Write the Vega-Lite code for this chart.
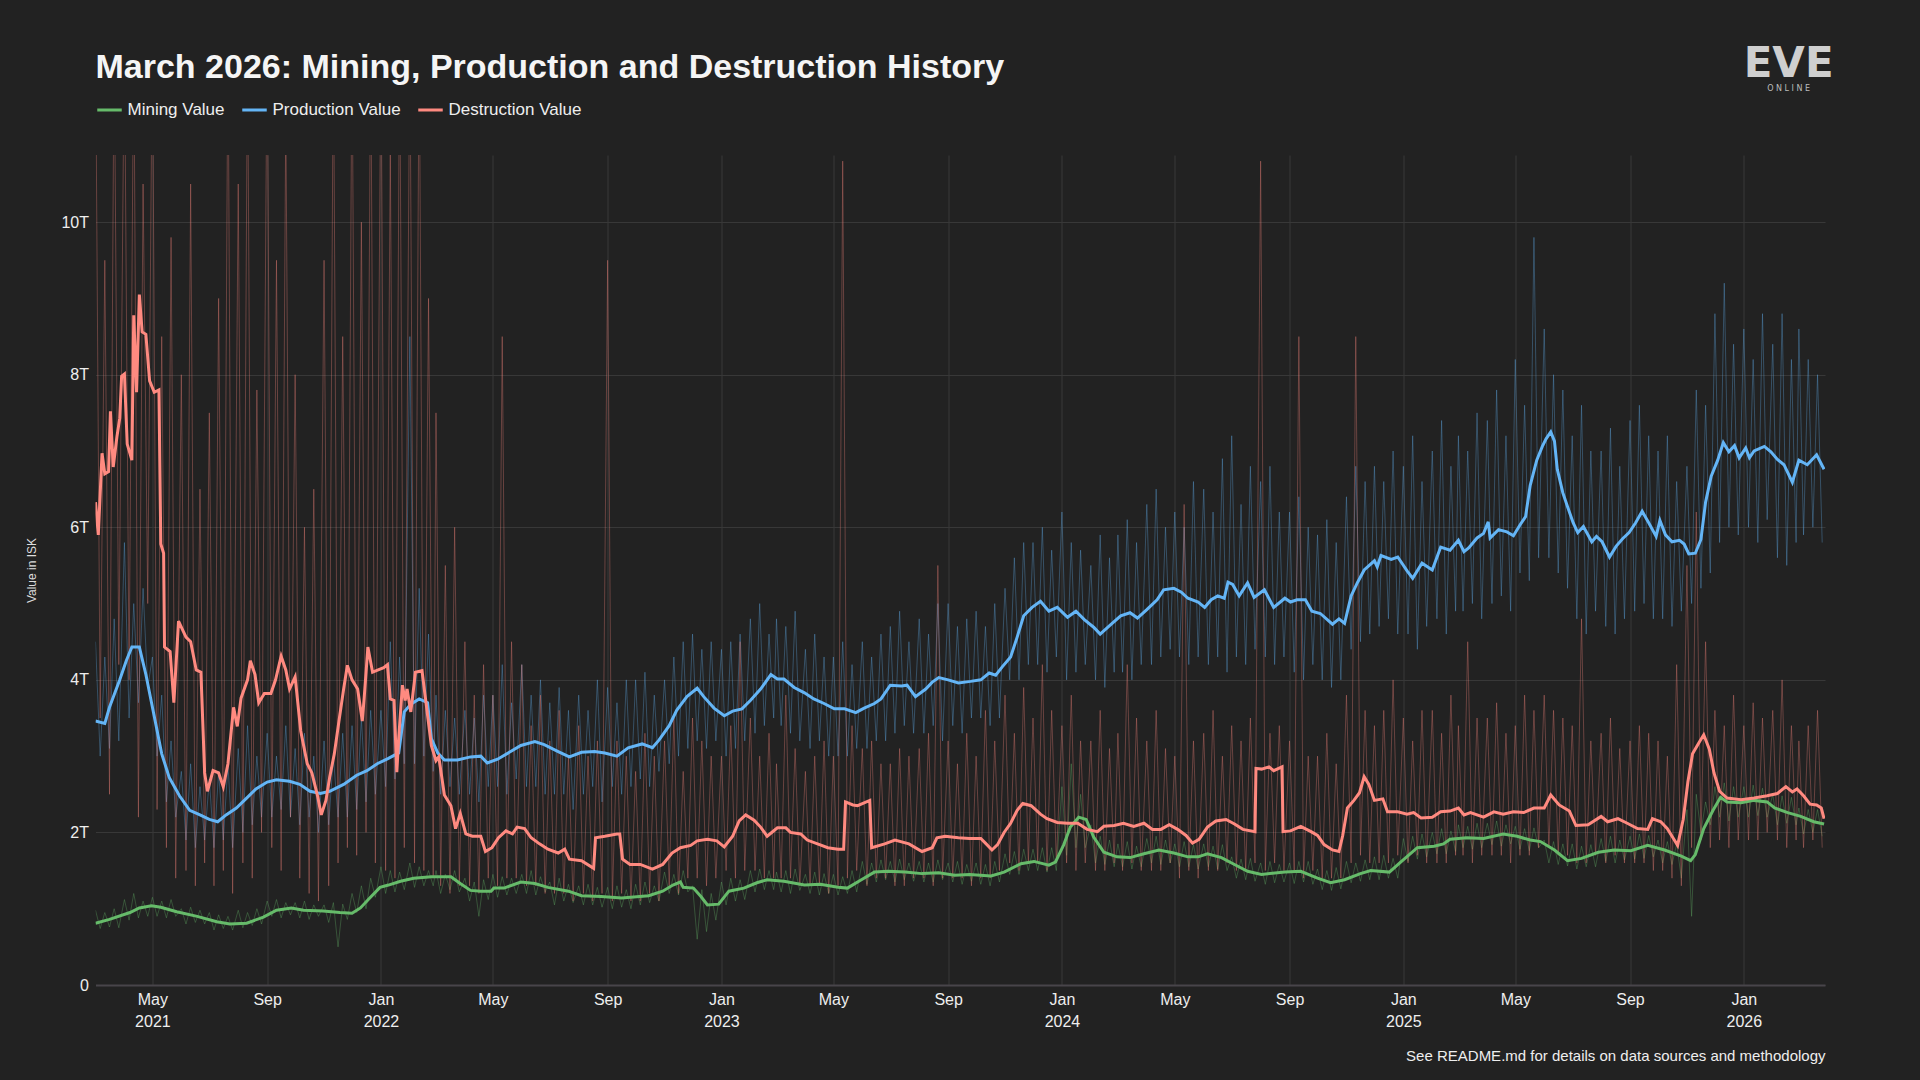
{
"$schema": "https://vega.github.io/schema/vega-lite/v6.json",
"width": 1729.5, "height": 830,
"autosize": {"type": "none"},
"padding": {"left": 95.5, "top": 155, "right": 95, "bottom": 95},
"background": "#222222",
"config": {"font": "Liberation Sans, Arial, sans-serif", "view": {"stroke": null}},
"title": {"text": "March 2026: Mining, Production and Destruction History", "anchor": "start", "frame": "group", "fontSize": 34, "fontWeight": "bold", "color": "#f5f5f5", "offset": -42},
"datasets": {
"smooth": [
{"t":"2021-03-01","s":"M","v":0.81},{"t":"2021-03-16","s":"M","v":0.86},{"t":"2021-04-07","s":"M","v":0.95},{"t":"2021-04-17","s":"M","v":1.01},{"t":"2021-04-30","s":"M","v":1.04},{"t":"2021-05-10","s":"M","v":1.02},{"t":"2021-05-27","s":"M","v":0.96},{"t":"2021-06-18","s":"M","v":0.9},{"t":"2021-07-09","s":"M","v":0.83},{"t":"2021-07-23","s":"M","v":0.8},{"t":"2021-08-10","s":"M","v":0.81},{"t":"2021-08-28","s":"M","v":0.89},{"t":"2021-09-11","s":"M","v":0.98},{"t":"2021-09-27","s":"M","v":1.01},{"t":"2021-10-10","s":"M","v":0.98},{"t":"2021-10-31","s":"M","v":0.97},{"t":"2021-11-18","s":"M","v":0.95},{"t":"2021-12-01","s":"M","v":0.94},{"t":"2021-12-10","s":"M","v":1.01},{"t":"2021-12-20","s":"M","v":1.14},{"t":"2021-12-31","s":"M","v":1.28},
{"t":"2022-01-09","s":"M","v":1.31},{"t":"2022-01-22","s":"M","v":1.36},{"t":"2022-02-05","s":"M","v":1.4},{"t":"2022-02-24","s":"M","v":1.42},{"t":"2022-03-17","s":"M","v":1.42},{"t":"2022-03-27","s":"M","v":1.33},{"t":"2022-04-07","s":"M","v":1.24},{"t":"2022-04-18","s":"M","v":1.23},{"t":"2022-04-29","s":"M","v":1.23},{"t":"2022-05-02","s":"M","v":1.27},{"t":"2022-05-13","s":"M","v":1.27},{"t":"2022-05-31","s":"M","v":1.35},{"t":"2022-06-15","s":"M","v":1.33},{"t":"2022-06-29","s":"M","v":1.28},{"t":"2022-07-21","s":"M","v":1.23},{"t":"2022-08-04","s":"M","v":1.17},{"t":"2022-08-25","s":"M","v":1.16},{"t":"2022-09-16","s":"M","v":1.14},{"t":"2022-10-15","s":"M","v":1.17},{"t":"2022-10-30","s":"M","v":1.23},{"t":"2022-11-10","s":"M","v":1.31},{"t":"2022-11-18","s":"M","v":1.35},{"t":"2022-11-21","s":"M","v":1.28},{"t":"2022-12-02","s":"M","v":1.27},{"t":"2022-12-10","s":"M","v":1.16},{"t":"2022-12-17","s":"M","v":1.05},{"t":"2022-12-29","s":"M","v":1.06},
{"t":"2023-01-09","s":"M","v":1.23},{"t":"2023-01-25","s":"M","v":1.27},{"t":"2023-02-08","s":"M","v":1.34},{"t":"2023-02-19","s":"M","v":1.38},{"t":"2023-03-09","s":"M","v":1.36},{"t":"2023-03-31","s":"M","v":1.31},{"t":"2023-04-17","s":"M","v":1.32},{"t":"2023-05-06","s":"M","v":1.28},{"t":"2023-05-16","s":"M","v":1.27},{"t":"2023-05-31","s":"M","v":1.38},{"t":"2023-06-14","s":"M","v":1.48},{"t":"2023-06-29","s":"M","v":1.49},{"t":"2023-07-17","s":"M","v":1.48},{"t":"2023-08-04","s":"M","v":1.46},{"t":"2023-08-22","s":"M","v":1.47},{"t":"2023-09-08","s":"M","v":1.44},{"t":"2023-09-24","s":"M","v":1.45},{"t":"2023-10-17","s":"M","v":1.43},{"t":"2023-10-31","s":"M","v":1.48},{"t":"2023-11-18","s":"M","v":1.59},{"t":"2023-12-02","s":"M","v":1.62},{"t":"2023-12-18","s":"M","v":1.57},{"t":"2023-12-25","s":"M","v":1.61},
{"t":"2024-01-03","s":"M","v":1.84},{"t":"2024-01-10","s":"M","v":2.07},{"t":"2024-01-19","s":"M","v":2.2},{"t":"2024-01-27","s":"M","v":2.17},{"t":"2024-02-04","s":"M","v":1.94},{"t":"2024-02-15","s":"M","v":1.74},{"t":"2024-02-29","s":"M","v":1.68},{"t":"2024-03-14","s":"M","v":1.67},{"t":"2024-03-29","s":"M","v":1.72},{"t":"2024-04-14","s":"M","v":1.77},{"t":"2024-04-30","s":"M","v":1.73},{"t":"2024-05-15","s":"M","v":1.68},{"t":"2024-05-26","s":"M","v":1.68},{"t":"2024-06-05","s":"M","v":1.72},{"t":"2024-06-20","s":"M","v":1.67},{"t":"2024-07-04","s":"M","v":1.58},{"t":"2024-07-18","s":"M","v":1.49},{"t":"2024-08-02","s":"M","v":1.45},{"t":"2024-08-27","s":"M","v":1.48},{"t":"2024-09-13","s":"M","v":1.49},{"t":"2024-10-01","s":"M","v":1.4},{"t":"2024-10-15","s":"M","v":1.34},{"t":"2024-10-30","s":"M","v":1.38},{"t":"2024-11-16","s":"M","v":1.46},{"t":"2024-11-27","s":"M","v":1.5},{"t":"2024-12-17","s":"M","v":1.48},{"t":"2024-12-30","s":"M","v":1.62},
{"t":"2025-01-16","s":"M","v":1.8},{"t":"2025-02-03","s":"M","v":1.82},{"t":"2025-02-13","s":"M","v":1.85},{"t":"2025-02-20","s":"M","v":1.91},{"t":"2025-03-10","s":"M","v":1.93},{"t":"2025-03-28","s":"M","v":1.92},{"t":"2025-04-18","s":"M","v":1.98},{"t":"2025-05-03","s":"M","v":1.95},{"t":"2025-05-17","s":"M","v":1.9},{"t":"2025-05-28","s":"M","v":1.88},{"t":"2025-06-12","s":"M","v":1.77},{"t":"2025-06-26","s":"M","v":1.63},{"t":"2025-07-11","s":"M","v":1.66},{"t":"2025-07-29","s":"M","v":1.74},{"t":"2025-08-15","s":"M","v":1.77},{"t":"2025-09-02","s":"M","v":1.76},{"t":"2025-09-20","s":"M","v":1.83},{"t":"2025-10-08","s":"M","v":1.77},{"t":"2025-10-26","s":"M","v":1.69},{"t":"2025-11-05","s":"M","v":1.63},{"t":"2025-11-10","s":"M","v":1.71},{"t":"2025-11-19","s":"M","v":2.05},{"t":"2025-11-29","s":"M","v":2.29},{"t":"2025-12-07","s":"M","v":2.46},{"t":"2025-12-14","s":"M","v":2.4},{"t":"2025-12-29","s":"M","v":2.39},
{"t":"2026-01-12","s":"M","v":2.42},{"t":"2026-01-26","s":"M","v":2.4},{"t":"2026-02-03","s":"M","v":2.32},{"t":"2026-02-17","s":"M","v":2.26},{"t":"2026-03-03","s":"M","v":2.21},{"t":"2026-03-17","s":"M","v":2.14},{"t":"2026-03-28","s":"M","v":2.11},
{"t":"2021-03-01","s":"P","v":3.46},{"t":"2021-03-11","s":"P","v":3.43},{"t":"2021-03-16","s":"P","v":3.64},{"t":"2021-03-27","s":"P","v":4.0},{"t":"2021-04-03","s":"P","v":4.25},{"t":"2021-04-09","s":"P","v":4.43},{"t":"2021-04-17","s":"P","v":4.43},{"t":"2021-04-24","s":"P","v":4.07},{"t":"2021-05-03","s":"P","v":3.52},{"t":"2021-05-11","s":"P","v":3.03},{"t":"2021-05-19","s":"P","v":2.72},{"t":"2021-05-30","s":"P","v":2.48},{"t":"2021-06-10","s":"P","v":2.29},{"t":"2021-06-21","s":"P","v":2.23},{"t":"2021-07-01","s":"P","v":2.17},{"t":"2021-07-10","s":"P","v":2.14},{"t":"2021-07-19","s":"P","v":2.23},{"t":"2021-07-30","s":"P","v":2.32},{"t":"2021-08-10","s":"P","v":2.45},{"t":"2021-08-20","s":"P","v":2.57},{"t":"2021-09-01","s":"P","v":2.66},{"t":"2021-09-11","s":"P","v":2.69},{"t":"2021-09-25","s":"P","v":2.67},{"t":"2021-10-06","s":"P","v":2.63},{"t":"2021-10-17","s":"P","v":2.54},{"t":"2021-10-28","s":"P","v":2.51},{"t":"2021-11-07","s":"P","v":2.54},{"t":"2021-11-22","s":"P","v":2.63},{"t":"2021-12-06","s":"P","v":2.75},{"t":"2021-12-17","s":"P","v":2.81},{"t":"2021-12-28","s":"P","v":2.9},
{"t":"2022-01-09","s":"P","v":2.97},{"t":"2022-01-15","s":"P","v":3.01},{"t":"2022-01-20","s":"P","v":3.04},{"t":"2022-01-26","s":"P","v":3.58},{"t":"2022-02-02","s":"P","v":3.68},{"t":"2022-02-11","s":"P","v":3.75},{"t":"2022-02-20","s":"P","v":3.7},{"t":"2022-02-24","s":"P","v":3.23},{"t":"2022-03-03","s":"P","v":3.04},{"t":"2022-03-10","s":"P","v":2.95},{"t":"2022-03-24","s":"P","v":2.95},{"t":"2022-04-07","s":"P","v":2.99},{"t":"2022-04-18","s":"P","v":3.0},{"t":"2022-04-25","s":"P","v":2.91},{"t":"2022-05-06","s":"P","v":2.96},{"t":"2022-05-20","s":"P","v":3.06},{"t":"2022-05-31","s":"P","v":3.14},{"t":"2022-06-15","s":"P","v":3.19},{"t":"2022-06-25","s":"P","v":3.15},{"t":"2022-07-10","s":"P","v":3.06},{"t":"2022-07-22","s":"P","v":2.99},{"t":"2022-08-04","s":"P","v":3.05},{"t":"2022-08-18","s":"P","v":3.06},{"t":"2022-08-29","s":"P","v":3.04},{"t":"2022-09-11","s":"P","v":3.0},{"t":"2022-09-23","s":"P","v":3.11},{"t":"2022-10-08","s":"P","v":3.16},{"t":"2022-10-19","s":"P","v":3.11},{"t":"2022-10-26","s":"P","v":3.21},{"t":"2022-11-06","s":"P","v":3.4},{"t":"2022-11-14","s":"P","v":3.6},{"t":"2022-11-25","s":"P","v":3.78},{"t":"2022-12-06","s":"P","v":3.89},{"t":"2022-12-13","s":"P","v":3.78},{"t":"2022-12-24","s":"P","v":3.63},
{"t":"2023-01-04","s":"P","v":3.53},{"t":"2023-01-13","s":"P","v":3.59},{"t":"2023-01-23","s":"P","v":3.62},{"t":"2023-02-01","s":"P","v":3.73},{"t":"2023-02-12","s":"P","v":3.88},{"t":"2023-02-23","s":"P","v":4.07},{"t":"2023-03-02","s":"P","v":4.01},{"t":"2023-03-09","s":"P","v":4.01},{"t":"2023-03-20","s":"P","v":3.9},{"t":"2023-03-31","s":"P","v":3.83},{"t":"2023-04-10","s":"P","v":3.75},{"t":"2023-04-21","s":"P","v":3.69},{"t":"2023-05-02","s":"P","v":3.62},{"t":"2023-05-13","s":"P","v":3.62},{"t":"2023-05-25","s":"P","v":3.57},{"t":"2023-06-03","s":"P","v":3.63},{"t":"2023-06-14","s":"P","v":3.69},{"t":"2023-06-21","s":"P","v":3.75},{"t":"2023-07-01","s":"P","v":3.93},{"t":"2023-07-13","s":"P","v":3.92},{"t":"2023-07-19","s":"P","v":3.93},{"t":"2023-07-28","s":"P","v":3.78},{"t":"2023-08-08","s":"P","v":3.88},{"t":"2023-08-15","s":"P","v":3.97},{"t":"2023-08-22","s":"P","v":4.03},{"t":"2023-09-01","s":"P","v":4.0},{"t":"2023-09-12","s":"P","v":3.96},{"t":"2023-09-25","s":"P","v":3.98},{"t":"2023-10-06","s":"P","v":4.0},{"t":"2023-10-15","s":"P","v":4.09},{"t":"2023-10-22","s":"P","v":4.06},{"t":"2023-10-29","s":"P","v":4.17},{"t":"2023-11-07","s":"P","v":4.3},{"t":"2023-11-14","s":"P","v":4.56},{"t":"2023-11-21","s":"P","v":4.84},{"t":"2023-11-30","s":"P","v":4.95},{"t":"2023-12-09","s":"P","v":5.03},{"t":"2023-12-18","s":"P","v":4.9},{"t":"2023-12-27","s":"P","v":4.95},
{"t":"2024-01-07","s":"P","v":4.82},{"t":"2024-01-16","s":"P","v":4.9},{"t":"2024-01-25","s":"P","v":4.79},{"t":"2024-02-04","s":"P","v":4.69},{"t":"2024-02-11","s":"P","v":4.6},{"t":"2024-02-22","s":"P","v":4.72},{"t":"2024-03-04","s":"P","v":4.84},{"t":"2024-03-14","s":"P","v":4.88},{"t":"2024-03-22","s":"P","v":4.81},{"t":"2024-04-01","s":"P","v":4.92},{"t":"2024-04-12","s":"P","v":5.05},{"t":"2024-04-19","s":"P","v":5.18},{"t":"2024-04-30","s":"P","v":5.2},{"t":"2024-05-08","s":"P","v":5.15},{"t":"2024-05-15","s":"P","v":5.07},{"t":"2024-05-26","s":"P","v":5.02},{"t":"2024-06-02","s":"P","v":4.95},{"t":"2024-06-09","s":"P","v":5.05},{"t":"2024-06-16","s":"P","v":5.1},{"t":"2024-06-23","s":"P","v":5.07},{"t":"2024-06-27","s":"P","v":5.28},{"t":"2024-07-02","s":"P","v":5.25},{"t":"2024-07-09","s":"P","v":5.1},{"t":"2024-07-18","s":"P","v":5.27},{"t":"2024-07-25","s":"P","v":5.08},{"t":"2024-08-05","s":"P","v":5.18},{"t":"2024-08-15","s":"P","v":4.95},{"t":"2024-08-27","s":"P","v":5.07},{"t":"2024-09-02","s":"P","v":5.02},{"t":"2024-09-09","s":"P","v":5.05},{"t":"2024-09-18","s":"P","v":5.05},{"t":"2024-09-25","s":"P","v":4.9},{"t":"2024-10-04","s":"P","v":4.87},{"t":"2024-10-17","s":"P","v":4.73},{"t":"2024-10-24","s":"P","v":4.8},{"t":"2024-10-30","s":"P","v":4.74},{"t":"2024-11-06","s":"P","v":5.1},{"t":"2024-11-13","s":"P","v":5.28},{"t":"2024-11-20","s":"P","v":5.44},{"t":"2024-12-01","s":"P","v":5.56},{"t":"2024-12-04","s":"P","v":5.48},{"t":"2024-12-08","s":"P","v":5.63},{"t":"2024-12-19","s":"P","v":5.58},{"t":"2024-12-26","s":"P","v":5.61},
{"t":"2025-01-05","s":"P","v":5.43},{"t":"2025-01-11","s":"P","v":5.33},{"t":"2025-01-21","s":"P","v":5.53},{"t":"2025-02-01","s":"P","v":5.44},{"t":"2025-02-10","s":"P","v":5.74},{"t":"2025-02-20","s":"P","v":5.7},{"t":"2025-03-01","s":"P","v":5.83},{"t":"2025-03-07","s":"P","v":5.68},{"t":"2025-03-12","s":"P","v":5.73},{"t":"2025-03-21","s":"P","v":5.86},{"t":"2025-03-28","s":"P","v":5.92},{"t":"2025-04-02","s":"P","v":6.07},{"t":"2025-04-04","s":"P","v":5.86},{"t":"2025-04-13","s":"P","v":5.97},{"t":"2025-04-22","s":"P","v":5.94},{"t":"2025-04-29","s":"P","v":5.89},{"t":"2025-05-06","s":"P","v":6.03},{"t":"2025-05-12","s":"P","v":6.14},{"t":"2025-05-17","s":"P","v":6.55},{"t":"2025-05-24","s":"P","v":6.88},{"t":"2025-05-30","s":"P","v":7.06},{"t":"2025-06-03","s":"P","v":7.16},{"t":"2025-06-08","s":"P","v":7.25},{"t":"2025-06-12","s":"P","v":7.13},{"t":"2025-06-15","s":"P","v":6.76},{"t":"2025-06-21","s":"P","v":6.45},{"t":"2025-06-26","s":"P","v":6.27},{"t":"2025-07-02","s":"P","v":6.06},{"t":"2025-07-07","s":"P","v":5.93},{"t":"2025-07-13","s":"P","v":6.01},{"t":"2025-07-18","s":"P","v":5.9},{"t":"2025-07-22","s":"P","v":5.81},{"t":"2025-07-27","s":"P","v":5.88},{"t":"2025-08-02","s":"P","v":5.81},{"t":"2025-08-10","s":"P","v":5.61},{"t":"2025-08-17","s":"P","v":5.75},{"t":"2025-08-24","s":"P","v":5.85},{"t":"2025-08-31","s":"P","v":5.93},{"t":"2025-09-07","s":"P","v":6.06},{"t":"2025-09-14","s":"P","v":6.21},{"t":"2025-09-21","s":"P","v":6.06},{"t":"2025-09-29","s":"P","v":5.88},{"t":"2025-10-03","s":"P","v":6.09},{"t":"2025-10-09","s":"P","v":5.9},{"t":"2025-10-16","s":"P","v":5.81},{"t":"2025-10-24","s":"P","v":5.83},{"t":"2025-10-29","s":"P","v":5.78},{"t":"2025-11-03","s":"P","v":5.65},{"t":"2025-11-10","s":"P","v":5.66},{"t":"2025-11-16","s":"P","v":5.84},{"t":"2025-11-21","s":"P","v":6.33},{"t":"2025-11-27","s":"P","v":6.67},{"t":"2025-12-04","s":"P","v":6.88},{"t":"2025-12-10","s":"P","v":7.11},{"t":"2025-12-16","s":"P","v":6.99},{"t":"2025-12-22","s":"P","v":7.07},{"t":"2025-12-27","s":"P","v":6.91},
{"t":"2026-01-03","s":"P","v":7.04},{"t":"2026-01-07","s":"P","v":6.91},{"t":"2026-01-12","s":"P","v":7.0},{"t":"2026-01-23","s":"P","v":7.06},{"t":"2026-01-30","s":"P","v":6.99},{"t":"2026-02-06","s":"P","v":6.89},{"t":"2026-02-13","s":"P","v":6.82},{"t":"2026-02-22","s":"P","v":6.59},{"t":"2026-03-01","s":"P","v":6.88},{"t":"2026-03-10","s":"P","v":6.82},{"t":"2026-03-20","s":"P","v":6.95},{"t":"2026-03-28","s":"P","v":6.76},
{"t":"2021-03-01","s":"D","v":6.33},{"t":"2021-03-04","s":"D","v":5.9},{"t":"2021-03-08","s":"D","v":6.97},{"t":"2021-03-11","s":"D","v":6.7},{"t":"2021-03-15","s":"D","v":6.73},{"t":"2021-03-17","s":"D","v":7.52},{"t":"2021-03-20","s":"D","v":6.79},{"t":"2021-03-24","s":"D","v":7.19},{"t":"2021-03-27","s":"D","v":7.43},{"t":"2021-03-29","s":"D","v":7.98},{"t":"2021-04-01","s":"D","v":8.01},{"t":"2021-04-04","s":"D","v":7.09},{"t":"2021-04-09","s":"D","v":6.88},{"t":"2021-04-11","s":"D","v":8.78},{"t":"2021-04-14","s":"D","v":7.77},{"t":"2021-04-17","s":"D","v":9.05},{"t":"2021-04-20","s":"D","v":8.56},{"t":"2021-04-24","s":"D","v":8.53},{"t":"2021-04-28","s":"D","v":7.92},{"t":"2021-05-03","s":"D","v":7.77},{"t":"2021-05-08","s":"D","v":7.8},{"t":"2021-05-10","s":"D","v":5.78},{"t":"2021-05-13","s":"D","v":5.66},{"t":"2021-05-14","s":"D","v":4.43},{"t":"2021-05-20","s":"D","v":4.37},{"t":"2021-05-24","s":"D","v":3.7},{"t":"2021-05-29","s":"D","v":4.77},{"t":"2021-06-06","s":"D","v":4.56},{"t":"2021-06-11","s":"D","v":4.5},{"t":"2021-06-17","s":"D","v":4.13},{"t":"2021-06-22","s":"D","v":4.1},{"t":"2021-06-26","s":"D","v":2.78},{"t":"2021-06-29","s":"D","v":2.54},{"t":"2021-07-05","s":"D","v":2.81},{"t":"2021-07-11","s":"D","v":2.78},{"t":"2021-07-16","s":"D","v":2.6},{"t":"2021-07-21","s":"D","v":2.9},{"t":"2021-07-27","s":"D","v":3.64},{"t":"2021-07-31","s":"D","v":3.39},{"t":"2021-08-04","s":"D","v":3.76},{"t":"2021-08-11","s":"D","v":4.0},{"t":"2021-08-14","s":"D","v":4.25},{"t":"2021-08-19","s":"D","v":4.07},{"t":"2021-08-23","s":"D","v":3.7},{"t":"2021-08-29","s":"D","v":3.82},{"t":"2021-09-05","s":"D","v":3.82},{"t":"2021-09-10","s":"D","v":4.0},{"t":"2021-09-16","s":"D","v":4.31},{"t":"2021-09-21","s":"D","v":4.13},{"t":"2021-09-25","s":"D","v":3.88},{"t":"2021-10-01","s":"D","v":4.04},{"t":"2021-10-07","s":"D","v":3.33},{"t":"2021-10-14","s":"D","v":2.9},{"t":"2021-10-19","s":"D","v":2.78},{"t":"2021-10-25","s":"D","v":2.48},{"t":"2021-10-29","s":"D","v":2.23},{"t":"2021-11-03","s":"D","v":2.42},{"t":"2021-11-07","s":"D","v":2.72},{"t":"2021-11-12","s":"D","v":3.03},{"t":"2021-11-17","s":"D","v":3.46},{"t":"2021-11-22","s":"D","v":3.88},{"t":"2021-11-26","s":"D","v":4.19},{"t":"2021-12-01","s":"D","v":4.0},{"t":"2021-12-07","s":"D","v":3.88},{"t":"2021-12-12","s":"D","v":3.46},{"t":"2021-12-14","s":"D","v":3.76},{"t":"2021-12-18","s":"D","v":4.43},{"t":"2021-12-23","s":"D","v":4.1},{"t":"2021-12-29","s":"D","v":4.13},
{"t":"2022-01-04","s":"D","v":4.16},{"t":"2022-01-08","s":"D","v":4.2},{"t":"2022-01-11","s":"D","v":3.75},{"t":"2022-01-15","s":"D","v":3.73},{"t":"2022-01-18","s":"D","v":2.79},{"t":"2022-01-20","s":"D","v":3.23},{"t":"2022-01-24","s":"D","v":3.93},{"t":"2022-01-27","s":"D","v":3.73},{"t":"2022-01-29","s":"D","v":3.88},{"t":"2022-02-02","s":"D","v":3.58},{"t":"2022-02-07","s":"D","v":4.1},{"t":"2022-02-14","s":"D","v":4.12},{"t":"2022-02-18","s":"D","v":3.73},{"t":"2022-02-24","s":"D","v":3.14},{"t":"2022-03-01","s":"D","v":2.94},{"t":"2022-03-04","s":"D","v":2.99},{"t":"2022-03-10","s":"D","v":2.49},{"t":"2022-03-17","s":"D","v":2.35},{"t":"2022-03-22","s":"D","v":2.05},{"t":"2022-03-27","s":"D","v":2.25},{"t":"2022-04-02","s":"D","v":1.98},{"t":"2022-04-09","s":"D","v":1.95},{"t":"2022-04-18","s":"D","v":1.95},{"t":"2022-04-23","s":"D","v":1.75},{"t":"2022-04-30","s":"D","v":1.8},{"t":"2022-05-07","s":"D","v":1.93},{"t":"2022-05-15","s":"D","v":2.02},{"t":"2022-05-22","s":"D","v":1.98},{"t":"2022-05-27","s":"D","v":2.07},{"t":"2022-06-04","s":"D","v":2.05},{"t":"2022-06-11","s":"D","v":1.93},{"t":"2022-06-20","s":"D","v":1.85},{"t":"2022-06-29","s":"D","v":1.78},{"t":"2022-07-10","s":"D","v":1.73},{"t":"2022-07-17","s":"D","v":1.78},{"t":"2022-07-22","s":"D","v":1.65},{"t":"2022-08-04","s":"D","v":1.63},{"t":"2022-08-17","s":"D","v":1.53},{"t":"2022-08-19","s":"D","v":1.93},{"t":"2022-08-29","s":"D","v":1.95},{"t":"2022-09-11","s":"D","v":1.98},{"t":"2022-09-14","s":"D","v":1.98},{"t":"2022-09-17","s":"D","v":1.65},{"t":"2022-09-25","s":"D","v":1.58},{"t":"2022-10-06","s":"D","v":1.58},{"t":"2022-10-19","s":"D","v":1.52},{"t":"2022-10-30","s":"D","v":1.58},{"t":"2022-11-09","s":"D","v":1.73},{"t":"2022-11-18","s":"D","v":1.8},{"t":"2022-11-29","s":"D","v":1.83},{"t":"2022-12-06","s":"D","v":1.89},{"t":"2022-12-17","s":"D","v":1.91},{"t":"2022-12-27","s":"D","v":1.89},
{"t":"2023-01-04","s":"D","v":1.81},{"t":"2023-01-13","s":"D","v":1.95},{"t":"2023-01-20","s":"D","v":2.15},{"t":"2023-01-27","s":"D","v":2.23},{"t":"2023-02-05","s":"D","v":2.16},{"t":"2023-02-12","s":"D","v":2.07},{"t":"2023-02-19","s":"D","v":1.95},{"t":"2023-03-02","s":"D","v":2.06},{"t":"2023-03-11","s":"D","v":2.06},{"t":"2023-03-16","s":"D","v":2.0},{"t":"2023-03-27","s":"D","v":1.98},{"t":"2023-04-03","s":"D","v":1.9},{"t":"2023-04-14","s":"D","v":1.85},{"t":"2023-04-25","s":"D","v":1.8},{"t":"2023-05-06","s":"D","v":1.78},{"t":"2023-05-12","s":"D","v":1.78},{"t":"2023-05-14","s":"D","v":2.4},{"t":"2023-05-22","s":"D","v":2.36},{"t":"2023-05-27","s":"D","v":2.35},{"t":"2023-06-09","s":"D","v":2.42},{"t":"2023-06-11","s":"D","v":1.8},{"t":"2023-06-25","s":"D","v":1.85},{"t":"2023-07-06","s":"D","v":1.9},{"t":"2023-07-21","s":"D","v":1.85},{"t":"2023-08-04","s":"D","v":1.75},{"t":"2023-08-15","s":"D","v":1.8},{"t":"2023-08-20","s":"D","v":1.93},{"t":"2023-08-29","s":"D","v":1.95},{"t":"2023-09-12","s":"D","v":1.93},{"t":"2023-09-24","s":"D","v":1.92},{"t":"2023-10-06","s":"D","v":1.92},{"t":"2023-10-11","s":"D","v":1.86},{"t":"2023-10-18","s":"D","v":1.77},{"t":"2023-10-24","s":"D","v":1.84},{"t":"2023-10-31","s":"D","v":2.0},{"t":"2023-11-07","s":"D","v":2.12},{"t":"2023-11-14","s":"D","v":2.29},{"t":"2023-11-20","s":"D","v":2.38},{"t":"2023-11-29","s":"D","v":2.35},{"t":"2023-12-09","s":"D","v":2.24},{"t":"2023-12-16","s":"D","v":2.18},{"t":"2023-12-27","s":"D","v":2.13},
{"t":"2024-01-07","s":"D","v":2.12},{"t":"2024-01-18","s":"D","v":2.12},{"t":"2024-01-28","s":"D","v":2.04},{"t":"2024-02-08","s":"D","v":2.01},{"t":"2024-02-15","s":"D","v":2.08},{"t":"2024-02-26","s":"D","v":2.09},{"t":"2024-03-07","s":"D","v":2.12},{"t":"2024-03-18","s":"D","v":2.08},{"t":"2024-03-29","s":"D","v":2.12},{"t":"2024-04-07","s":"D","v":2.04},{"t":"2024-04-16","s":"D","v":2.04},{"t":"2024-04-25","s":"D","v":2.1},{"t":"2024-05-04","s":"D","v":2.04},{"t":"2024-05-13","s":"D","v":1.96},{"t":"2024-05-20","s":"D","v":1.86},{"t":"2024-05-27","s":"D","v":1.91},{"t":"2024-06-05","s":"D","v":2.07},{"t":"2024-06-14","s":"D","v":2.15},{"t":"2024-06-25","s":"D","v":2.17},{"t":"2024-07-04","s":"D","v":2.11},{"t":"2024-07-13","s":"D","v":2.04},{"t":"2024-07-26","s":"D","v":2.01},{"t":"2024-07-27","s":"D","v":2.84},{"t":"2024-08-02","s":"D","v":2.83},{"t":"2024-08-10","s":"D","v":2.86},{"t":"2024-08-15","s":"D","v":2.81},{"t":"2024-08-24","s":"D","v":2.86},{"t":"2024-08-25","s":"D","v":2.01},{"t":"2024-09-02","s":"D","v":2.02},{"t":"2024-09-13","s":"D","v":2.08},{"t":"2024-09-24","s":"D","v":2.01},{"t":"2024-10-01","s":"D","v":1.96},{"t":"2024-10-08","s":"D","v":1.84},{"t":"2024-10-17","s":"D","v":1.77},{"t":"2024-10-24","s":"D","v":1.75},{"t":"2024-10-28","s":"D","v":1.96},{"t":"2024-11-02","s":"D","v":2.32},{"t":"2024-11-09","s":"D","v":2.42},{"t":"2024-11-15","s":"D","v":2.52},{"t":"2024-11-20","s":"D","v":2.73},{"t":"2024-11-25","s":"D","v":2.63},{"t":"2024-12-01","s":"D","v":2.42},{"t":"2024-12-10","s":"D","v":2.44},{"t":"2024-12-15","s":"D","v":2.27},{"t":"2024-12-26","s":"D","v":2.27},
{"t":"2025-01-05","s":"D","v":2.24},{"t":"2025-01-12","s":"D","v":2.26},{"t":"2025-01-20","s":"D","v":2.19},{"t":"2025-02-01","s":"D","v":2.2},{"t":"2025-02-10","s":"D","v":2.27},{"t":"2025-02-20","s":"D","v":2.28},{"t":"2025-03-01","s":"D","v":2.32},{"t":"2025-03-07","s":"D","v":2.23},{"t":"2025-03-14","s":"D","v":2.26},{"t":"2025-03-28","s":"D","v":2.2},{"t":"2025-04-08","s":"D","v":2.27},{"t":"2025-04-18","s":"D","v":2.24},{"t":"2025-04-29","s":"D","v":2.27},{"t":"2025-05-10","s":"D","v":2.26},{"t":"2025-05-21","s":"D","v":2.32},{"t":"2025-06-01","s":"D","v":2.32},{"t":"2025-06-08","s":"D","v":2.49},{"t":"2025-06-17","s":"D","v":2.36},{"t":"2025-06-28","s":"D","v":2.28},{"t":"2025-07-05","s":"D","v":2.09},{"t":"2025-07-18","s":"D","v":2.1},{"t":"2025-08-01","s":"D","v":2.21},{"t":"2025-08-08","s":"D","v":2.14},{"t":"2025-08-19","s":"D","v":2.18},{"t":"2025-08-29","s":"D","v":2.12},{"t":"2025-09-09","s":"D","v":2.05},{"t":"2025-09-20","s":"D","v":2.04},{"t":"2025-09-25","s":"D","v":2.18},{"t":"2025-10-04","s":"D","v":2.14},{"t":"2025-10-11","s":"D","v":2.05},{"t":"2025-10-18","s":"D","v":1.91},{"t":"2025-10-22","s":"D","v":1.83},{"t":"2025-10-28","s":"D","v":2.17},{"t":"2025-11-02","s":"D","v":2.66},{"t":"2025-11-07","s":"D","v":3.03},{"t":"2025-11-14","s":"D","v":3.18},{"t":"2025-11-19","s":"D","v":3.28},{"t":"2025-11-25","s":"D","v":3.09},{"t":"2025-11-30","s":"D","v":2.78},{"t":"2025-12-06","s":"D","v":2.54},{"t":"2025-12-14","s":"D","v":2.45},{"t":"2025-12-29","s":"D","v":2.43},
{"t":"2026-01-12","s":"D","v":2.45},{"t":"2026-01-26","s":"D","v":2.48},{"t":"2026-02-06","s":"D","v":2.51},{"t":"2026-02-15","s":"D","v":2.6},{"t":"2026-02-22","s":"D","v":2.53},{"t":"2026-02-27","s":"D","v":2.57},{"t":"2026-03-06","s":"D","v":2.48},{"t":"2026-03-13","s":"D","v":2.37},{"t":"2026-03-20","s":"D","v":2.36},{"t":"2026-03-25","s":"D","v":2.32},{"t":"2026-03-28","s":"D","v":2.18}
],
"raw": [
{"t":"2021-03-01","M":0.98,"P":4.5,"D":12.5},{"t":"2021-03-06","M":0.74,"P":3.0,"D":3.5},{"t":"2021-03-11","M":0.95,"P":4.3,"D":9.5},{"t":"2021-03-16","M":0.76,"P":3.1,"D":2.5},{"t":"2021-03-21","M":1.0,"P":4.8,"D":12.5},{"t":"2021-03-26","M":0.75,"P":3.2,"D":4.2},
{"t":"2021-04-01","M":1.12,"P":5.8,"D":12.5},{"t":"2021-04-06","M":0.85,"P":3.5,"D":4.0},{"t":"2021-04-11","M":1.2,"P":5.0,"D":12.5},{"t":"2021-04-16","M":0.88,"P":3.7,"D":2.2},{"t":"2021-04-21","M":1.1,"P":5.2,"D":10.5},{"t":"2021-04-26","M":0.9,"P":3.9,"D":5.0},
{"t":"2021-05-01","M":1.15,"P":4.3,"D":12.5},{"t":"2021-05-06","M":0.9,"P":3.0,"D":2.3},{"t":"2021-05-11","M":1.1,"P":3.8,"D":8.5},{"t":"2021-05-16","M":0.88,"P":2.4,"D":1.8},{"t":"2021-05-21","M":1.12,"P":3.2,"D":9.8},{"t":"2021-05-26","M":0.9,"P":2.2,"D":1.4},
{"t":"2021-06-01","M":1.0,"P":2.8,"D":8.0},{"t":"2021-06-06","M":0.8,"P":1.9,"D":1.5},{"t":"2021-06-11","M":1.02,"P":2.9,"D":10.5},{"t":"2021-06-16","M":0.82,"P":1.8,"D":1.3},{"t":"2021-06-21","M":0.98,"P":2.6,"D":6.5},{"t":"2021-06-26","M":0.8,"P":1.9,"D":1.6},
{"t":"2021-07-01","M":0.95,"P":2.7,"D":7.5},{"t":"2021-07-06","M":0.72,"P":1.8,"D":1.3},{"t":"2021-07-11","M":0.92,"P":2.8,"D":9.0},{"t":"2021-07-16","M":0.74,"P":1.9,"D":1.5},{"t":"2021-07-21","M":0.9,"P":2.9,"D":12.5},{"t":"2021-07-26","M":0.72,"P":1.8,"D":1.2},
{"t":"2021-08-01","M":0.98,"P":3.1,"D":10.5},{"t":"2021-08-06","M":0.75,"P":2.0,"D":1.6},{"t":"2021-08-11","M":0.95,"P":3.4,"D":12.5},{"t":"2021-08-16","M":0.78,"P":2.1,"D":1.4},{"t":"2021-08-21","M":1.0,"P":3.0,"D":7.8},{"t":"2021-08-26","M":0.8,"P":2.2,"D":2.0},
{"t":"2021-09-01","M":1.1,"P":3.3,"D":12.5},{"t":"2021-09-06","M":0.9,"P":2.2,"D":1.8},{"t":"2021-09-11","M":1.12,"P":3.0,"D":9.5},{"t":"2021-09-16","M":0.88,"P":2.3,"D":1.5},{"t":"2021-09-21","M":1.08,"P":3.4,"D":11.5},{"t":"2021-09-26","M":0.92,"P":2.2,"D":2.2},
{"t":"2021-10-01","M":1.08,"P":3.1,"D":8.0},{"t":"2021-10-06","M":0.88,"P":2.1,"D":1.4},{"t":"2021-10-11","M":1.1,"P":3.3,"D":6.0},{"t":"2021-10-16","M":0.86,"P":2.2,"D":1.2},{"t":"2021-10-21","M":1.05,"P":3.0,"D":6.5},{"t":"2021-10-26","M":0.9,"P":2.0,"D":1.1},
{"t":"2021-11-01","M":1.05,"P":3.2,"D":9.5},{"t":"2021-11-06","M":0.82,"P":2.1,"D":1.3},{"t":"2021-11-11","M":1.08,"P":3.0,"D":12.5},{"t":"2021-11-16","M":0.5,"P":2.2,"D":1.6},{"t":"2021-11-21","M":1.06,"P":3.3,"D":8.5},{"t":"2021-11-26","M":0.86,"P":2.2,"D":1.8},
{"t":"2021-12-01","M":1.2,"P":3.4,"D":12.5},{"t":"2021-12-06","M":0.95,"P":2.3,"D":1.7},{"t":"2021-12-11","M":1.3,"P":3.5,"D":10.0},{"t":"2021-12-16","M":1.0,"P":2.4,"D":2.0},{"t":"2021-12-21","M":1.4,"P":3.6,"D":12.5},{"t":"2021-12-26","M":1.15,"P":2.5,"D":1.6},
{"t":"2022-01-01","M":1.55,"P":3.6,"D":12.5},{"t":"2022-01-06","M":1.2,"P":2.6,"D":1.5},{"t":"2022-01-11","M":1.5,"P":4.5,"D":11.0},{"t":"2022-01-16","M":1.22,"P":2.7,"D":1.4},{"t":"2022-01-21","M":1.48,"P":4.3,"D":12.5},{"t":"2022-01-26","M":1.25,"P":2.9,"D":1.8},
{"t":"2022-02-01","M":1.6,"P":8.5,"D":12.5},{"t":"2022-02-06","M":1.28,"P":2.9,"D":1.6},{"t":"2022-02-11","M":1.55,"P":5.2,"D":12.5},{"t":"2022-02-16","M":1.3,"P":3.0,"D":1.5},{"t":"2022-02-21","M":1.5,"P":4.6,"D":9.0},{"t":"2022-02-26","M":1.3,"P":2.8,"D":1.4},
{"t":"2022-03-01","M":1.5,"P":3.8,"D":7.5},{"t":"2022-03-06","M":1.2,"P":2.5,"D":1.3},{"t":"2022-03-11","M":1.45,"P":3.6,"D":5.5},{"t":"2022-03-16","M":1.25,"P":2.6,"D":1.2},{"t":"2022-03-21","M":1.5,"P":3.5,"D":6.0},{"t":"2022-03-26","M":1.22,"P":2.5,"D":1.3},
{"t":"2022-04-01","M":1.4,"P":3.6,"D":4.5},{"t":"2022-04-06","M":1.1,"P":2.5,"D":1.3},{"t":"2022-04-11","M":1.35,"P":3.5,"D":3.8},{"t":"2022-04-16","M":0.9,"P":2.4,"D":1.2},{"t":"2022-04-21","M":1.38,"P":3.8,"D":4.2},{"t":"2022-04-26","M":1.12,"P":2.6,"D":1.4},
{"t":"2022-05-01","M":1.45,"P":3.8,"D":3.8},{"t":"2022-05-06","M":1.15,"P":2.6,"D":1.3},{"t":"2022-05-11","M":1.42,"P":4.2,"D":8.5},{"t":"2022-05-16","M":1.18,"P":2.5,"D":1.4},{"t":"2022-05-21","M":1.4,"P":3.7,"D":4.5},{"t":"2022-05-26","M":1.2,"P":2.7,"D":1.4},
{"t":"2022-06-01","M":1.45,"P":4.2,"D":4.2},{"t":"2022-06-06","M":1.2,"P":2.6,"D":1.3},{"t":"2022-06-11","M":1.5,"P":3.8,"D":3.4},{"t":"2022-06-16","M":1.18,"P":2.6,"D":1.3},{"t":"2022-06-21","M":1.42,"P":4.0,"D":3.8},{"t":"2022-06-26","M":1.22,"P":2.5,"D":1.2},
{"t":"2022-07-01","M":1.35,"P":3.7,"D":3.2},{"t":"2022-07-06","M":1.05,"P":2.5,"D":1.2},{"t":"2022-07-11","M":1.4,"P":3.9,"D":3.6},{"t":"2022-07-16","M":1.1,"P":2.5,"D":1.2},{"t":"2022-07-21","M":1.32,"P":3.6,"D":3.0},{"t":"2022-07-26","M":1.08,"P":2.3,"D":1.1},
{"t":"2022-08-01","M":1.3,"P":3.8,"D":3.4},{"t":"2022-08-06","M":1.05,"P":2.5,"D":1.2},{"t":"2022-08-11","M":1.32,"P":3.6,"D":3.0},{"t":"2022-08-16","M":1.05,"P":2.6,"D":1.1},{"t":"2022-08-21","M":1.28,"P":4.0,"D":3.2},{"t":"2022-08-26","M":1.02,"P":2.4,"D":1.2},
{"t":"2022-09-01","M":1.28,"P":3.9,"D":9.5},{"t":"2022-09-06","M":1.0,"P":2.6,"D":1.1},{"t":"2022-09-11","M":1.3,"P":3.7,"D":3.2},{"t":"2022-09-16","M":1.02,"P":2.5,"D":1.2},{"t":"2022-09-21","M":1.25,"P":4.0,"D":3.0},{"t":"2022-09-26","M":1.0,"P":2.6,"D":1.1},
{"t":"2022-10-01","M":1.32,"P":4.0,"D":2.8},{"t":"2022-10-06","M":1.05,"P":2.7,"D":1.1},{"t":"2022-10-11","M":1.35,"P":4.1,"D":3.3},{"t":"2022-10-16","M":1.08,"P":2.6,"D":1.2},{"t":"2022-10-21","M":1.3,"P":3.8,"D":3.0},{"t":"2022-10-26","M":1.1,"P":2.8,"D":1.1},
{"t":"2022-11-01","M":1.48,"P":4.0,"D":3.2},{"t":"2022-11-06","M":1.2,"P":2.9,"D":1.3},{"t":"2022-11-11","M":1.45,"P":4.3,"D":3.5},{"t":"2022-11-16","M":1.18,"P":3.0,"D":1.2},{"t":"2022-11-21","M":1.5,"P":4.5,"D":2.8},{"t":"2022-11-26","M":1.22,"P":3.1,"D":1.4},
{"t":"2022-12-01","M":1.3,"P":4.6,"D":3.5},{"t":"2022-12-06","M":0.6,"P":3.2,"D":1.4},{"t":"2022-12-11","M":1.25,"P":4.4,"D":3.2},{"t":"2022-12-16","M":0.7,"P":3.1,"D":1.3},{"t":"2022-12-21","M":1.2,"P":4.5,"D":3.0},{"t":"2022-12-26","M":0.85,"P":3.2,"D":1.4},
{"t":"2023-01-01","M":1.35,"P":4.4,"D":3.0},{"t":"2023-01-06","M":1.05,"P":3.0,"D":1.5},{"t":"2023-01-11","M":1.4,"P":4.5,"D":3.4},{"t":"2023-01-16","M":1.1,"P":3.1,"D":1.4},{"t":"2023-01-21","M":1.38,"P":4.6,"D":4.5},{"t":"2023-01-26","M":1.12,"P":3.2,"D":1.5},
{"t":"2023-02-01","M":1.5,"P":4.8,"D":3.5},{"t":"2023-02-06","M":1.22,"P":3.3,"D":1.5},{"t":"2023-02-11","M":1.52,"P":5.0,"D":3.0},{"t":"2023-02-16","M":1.25,"P":3.4,"D":1.4},{"t":"2023-02-21","M":1.5,"P":4.6,"D":3.3},{"t":"2023-02-26","M":1.25,"P":3.5,"D":1.4},
{"t":"2023-03-01","M":1.48,"P":4.8,"D":2.9},{"t":"2023-03-06","M":1.22,"P":3.4,"D":1.4},{"t":"2023-03-11","M":1.5,"P":4.7,"D":3.8},{"t":"2023-03-16","M":1.2,"P":3.3,"D":1.4},{"t":"2023-03-21","M":1.52,"P":4.9,"D":3.1},{"t":"2023-03-26","M":1.24,"P":3.2,"D":1.3},
{"t":"2023-04-01","M":1.45,"P":4.4,"D":2.8},{"t":"2023-04-06","M":1.2,"P":3.1,"D":1.3},{"t":"2023-04-11","M":1.48,"P":4.6,"D":3.0},{"t":"2023-04-16","M":1.18,"P":3.2,"D":1.3},{"t":"2023-04-21","M":1.46,"P":4.3,"D":3.2},{"t":"2023-04-26","M":1.2,"P":3.0,"D":1.2},
{"t":"2023-05-01","M":1.45,"P":4.3,"D":3.0},{"t":"2023-05-06","M":1.18,"P":3.0,"D":1.3},{"t":"2023-05-11","M":1.42,"P":4.5,"D":10.8},{"t":"2023-05-16","M":1.2,"P":3.0,"D":1.4},{"t":"2023-05-21","M":1.5,"P":4.2,"D":3.4},{"t":"2023-05-26","M":1.22,"P":3.1,"D":1.5},
{"t":"2023-06-01","M":1.62,"P":4.5,"D":3.1},{"t":"2023-06-06","M":1.32,"P":3.1,"D":1.3},{"t":"2023-06-11","M":1.6,"P":4.3,"D":3.2},{"t":"2023-06-16","M":1.35,"P":3.2,"D":1.4},{"t":"2023-06-21","M":1.64,"P":4.6,"D":2.9},{"t":"2023-06-26","M":1.38,"P":3.2,"D":1.4},
{"t":"2023-07-01","M":1.62,"P":4.7,"D":2.9},{"t":"2023-07-06","M":1.35,"P":3.3,"D":1.3},{"t":"2023-07-11","M":1.65,"P":4.9,"D":3.1},{"t":"2023-07-16","M":1.38,"P":3.4,"D":1.3},{"t":"2023-07-21","M":1.6,"P":4.5,"D":3.0},{"t":"2023-07-26","M":1.36,"P":3.3,"D":1.4},
{"t":"2023-08-01","M":1.62,"P":4.8,"D":3.1},{"t":"2023-08-06","M":1.35,"P":3.3,"D":1.4},{"t":"2023-08-11","M":1.6,"P":4.6,"D":3.3},{"t":"2023-08-16","M":1.35,"P":3.4,"D":1.3},{"t":"2023-08-21","M":1.64,"P":5.0,"D":5.5},{"t":"2023-08-26","M":1.38,"P":3.2,"D":1.4},
{"t":"2023-09-01","M":1.6,"P":5.0,"D":3.2},{"t":"2023-09-06","M":1.35,"P":3.4,"D":1.4},{"t":"2023-09-11","M":1.62,"P":4.7,"D":2.9},{"t":"2023-09-16","M":1.32,"P":3.3,"D":1.4},{"t":"2023-09-21","M":1.58,"P":4.8,"D":3.3},{"t":"2023-09-26","M":1.36,"P":3.5,"D":1.3},
{"t":"2023-10-01","M":1.6,"P":4.9,"D":3.0},{"t":"2023-10-06","M":1.32,"P":3.5,"D":1.4},{"t":"2023-10-11","M":1.58,"P":4.7,"D":3.6},{"t":"2023-10-16","M":1.3,"P":3.4,"D":1.4},{"t":"2023-10-21","M":1.62,"P":5.0,"D":3.2},{"t":"2023-10-26","M":1.35,"P":3.5,"D":1.5},
{"t":"2023-11-01","M":1.72,"P":5.2,"D":3.8},{"t":"2023-11-06","M":1.45,"P":4.0,"D":1.6},{"t":"2023-11-11","M":1.75,"P":5.6,"D":3.3},{"t":"2023-11-16","M":1.45,"P":4.0,"D":1.5},{"t":"2023-11-21","M":1.78,"P":5.8,"D":3.9},{"t":"2023-11-26","M":1.5,"P":4.2,"D":1.6},
{"t":"2023-12-01","M":1.78,"P":5.8,"D":3.5},{"t":"2023-12-06","M":1.5,"P":4.2,"D":1.6},{"t":"2023-12-11","M":1.8,"P":6.0,"D":4.2},{"t":"2023-12-16","M":1.48,"P":4.1,"D":1.5},{"t":"2023-12-21","M":1.8,"P":5.7,"D":3.6},{"t":"2023-12-26","M":1.5,"P":4.3,"D":1.6},
{"t":"2024-01-01","M":2.6,"P":6.2,"D":3.4},{"t":"2024-01-06","M":1.7,"P":4.0,"D":1.6},{"t":"2024-01-11","M":2.9,"P":5.8,"D":3.8},{"t":"2024-01-16","M":1.8,"P":4.1,"D":1.5},{"t":"2024-01-21","M":2.5,"P":5.7,"D":3.2},{"t":"2024-01-26","M":1.8,"P":4.2,"D":1.6},
{"t":"2024-02-01","M":2.1,"P":5.5,"D":3.2},{"t":"2024-02-06","M":1.6,"P":4.0,"D":1.5},{"t":"2024-02-11","M":1.95,"P":5.9,"D":3.6},{"t":"2024-02-16","M":1.58,"P":3.9,"D":1.5},{"t":"2024-02-21","M":1.9,"P":5.6,"D":3.1},{"t":"2024-02-26","M":1.55,"P":4.1,"D":1.6},
{"t":"2024-03-01","M":1.85,"P":5.9,"D":3.3},{"t":"2024-03-06","M":1.55,"P":4.1,"D":1.5},{"t":"2024-03-11","M":1.88,"P":6.1,"D":4.2},{"t":"2024-03-16","M":1.52,"P":4.0,"D":1.6},{"t":"2024-03-21","M":1.82,"P":5.8,"D":3.5},{"t":"2024-03-26","M":1.55,"P":4.2,"D":1.5},
{"t":"2024-04-01","M":1.92,"P":6.3,"D":3.2},{"t":"2024-04-06","M":1.6,"P":4.2,"D":1.5},{"t":"2024-04-11","M":1.95,"P":6.5,"D":3.6},{"t":"2024-04-16","M":1.58,"P":4.3,"D":1.5},{"t":"2024-04-21","M":1.9,"P":6.0,"D":3.1},{"t":"2024-04-26","M":1.6,"P":4.4,"D":1.6},
{"t":"2024-05-01","M":1.85,"P":6.2,"D":3.0},{"t":"2024-05-06","M":1.55,"P":4.3,"D":1.4},{"t":"2024-05-11","M":1.88,"P":6.0,"D":6.3},{"t":"2024-05-16","M":1.55,"P":4.2,"D":1.5},{"t":"2024-05-21","M":1.84,"P":6.6,"D":3.2},{"t":"2024-05-26","M":1.52,"P":4.3,"D":1.4},
{"t":"2024-06-01","M":1.85,"P":6.5,"D":3.3},{"t":"2024-06-06","M":1.55,"P":4.2,"D":1.5},{"t":"2024-06-11","M":1.82,"P":6.2,"D":3.6},{"t":"2024-06-16","M":1.52,"P":4.3,"D":1.5},{"t":"2024-06-21","M":1.84,"P":6.9,"D":3.0},{"t":"2024-06-26","M":1.5,"P":4.1,"D":1.6},
{"t":"2024-07-01","M":1.68,"P":7.2,"D":3.4},{"t":"2024-07-06","M":1.4,"P":4.3,"D":1.5},{"t":"2024-07-11","M":1.65,"P":6.3,"D":3.2},{"t":"2024-07-16","M":1.38,"P":4.2,"D":1.5},{"t":"2024-07-21","M":1.66,"P":6.8,"D":3.5},{"t":"2024-07-26","M":1.36,"P":4.4,"D":1.6},
{"t":"2024-08-01","M":1.6,"P":6.6,"D":10.8},{"t":"2024-08-06","M":1.32,"P":4.3,"D":1.5},{"t":"2024-08-11","M":1.62,"P":6.8,"D":3.3},{"t":"2024-08-16","M":1.34,"P":4.2,"D":1.6},{"t":"2024-08-21","M":1.58,"P":6.2,"D":3.4},{"t":"2024-08-26","M":1.35,"P":4.3,"D":1.5},
{"t":"2024-09-01","M":1.6,"P":6.2,"D":3.2},{"t":"2024-09-06","M":1.33,"P":4.1,"D":1.5},{"t":"2024-09-11","M":1.62,"P":6.4,"D":8.5},{"t":"2024-09-16","M":1.35,"P":4.0,"D":1.4},{"t":"2024-09-21","M":1.62,"P":6.0,"D":3.0},{"t":"2024-09-26","M":1.32,"P":4.2,"D":1.5},
{"t":"2024-10-01","M":1.52,"P":5.9,"D":3.0},{"t":"2024-10-06","M":1.25,"P":4.0,"D":1.4},{"t":"2024-10-11","M":1.5,"P":6.1,"D":3.3},{"t":"2024-10-16","M":1.24,"P":3.9,"D":1.4},{"t":"2024-10-21","M":1.54,"P":5.8,"D":2.9},{"t":"2024-10-26","M":1.26,"P":4.0,"D":1.4},
{"t":"2024-11-01","M":1.62,"P":6.4,"D":3.8},{"t":"2024-11-06","M":1.34,"P":4.4,"D":1.6},{"t":"2024-11-11","M":1.6,"P":6.8,"D":8.5},{"t":"2024-11-16","M":1.36,"P":4.5,"D":1.7},{"t":"2024-11-21","M":1.64,"P":6.6,"D":3.6},{"t":"2024-11-26","M":1.38,"P":4.6,"D":1.6},
{"t":"2024-12-01","M":1.68,"P":6.8,"D":3.4},{"t":"2024-12-06","M":1.38,"P":4.7,"D":1.6},{"t":"2024-12-11","M":1.7,"P":6.6,"D":3.6},{"t":"2024-12-16","M":1.4,"P":4.8,"D":1.6},{"t":"2024-12-21","M":1.66,"P":7.0,"D":4.0},{"t":"2024-12-26","M":1.4,"P":4.6,"D":1.7},
{"t":"2025-01-01","M":1.92,"P":6.8,"D":3.5},{"t":"2025-01-06","M":1.62,"P":4.6,"D":1.6},{"t":"2025-01-11","M":1.95,"P":7.2,"D":3.2},{"t":"2025-01-16","M":1.65,"P":4.4,"D":1.7},{"t":"2025-01-21","M":1.98,"P":6.6,"D":3.6},{"t":"2025-01-26","M":1.68,"P":4.7,"D":1.6},
{"t":"2025-02-01","M":2.0,"P":7.0,"D":3.6},{"t":"2025-02-06","M":1.72,"P":4.8,"D":1.6},{"t":"2025-02-11","M":2.05,"P":7.4,"D":3.3},{"t":"2025-02-16","M":1.72,"P":4.6,"D":1.6},{"t":"2025-02-21","M":2.02,"P":6.8,"D":3.8},{"t":"2025-02-26","M":1.75,"P":4.9,"D":1.7},
{"t":"2025-03-01","M":2.1,"P":7.2,"D":3.4},{"t":"2025-03-06","M":1.8,"P":4.9,"D":1.7},{"t":"2025-03-11","M":2.08,"P":7.0,"D":4.5},{"t":"2025-03-16","M":1.78,"P":5.0,"D":1.6},{"t":"2025-03-21","M":2.12,"P":7.5,"D":3.5},{"t":"2025-03-26","M":1.8,"P":4.8,"D":1.7},
{"t":"2025-04-01","M":2.12,"P":7.4,"D":3.5},{"t":"2025-04-06","M":1.84,"P":5.0,"D":1.7},{"t":"2025-04-11","M":2.15,"P":7.8,"D":3.7},{"t":"2025-04-16","M":1.82,"P":5.1,"D":1.7},{"t":"2025-04-21","M":2.1,"P":7.2,"D":3.3},{"t":"2025-04-26","M":1.85,"P":4.9,"D":1.6},
{"t":"2025-05-01","M":2.08,"P":8.2,"D":3.4},{"t":"2025-05-06","M":1.78,"P":5.4,"D":1.7},{"t":"2025-05-11","M":2.05,"P":7.6,"D":3.8},{"t":"2025-05-16","M":1.76,"P":5.3,"D":1.7},{"t":"2025-05-21","M":2.06,"P":9.8,"D":3.6},{"t":"2025-05-26","M":1.8,"P":5.6,"D":1.8},
{"t":"2025-06-01","M":1.9,"P":8.6,"D":3.8},{"t":"2025-06-06","M":1.6,"P":5.6,"D":1.8},{"t":"2025-06-11","M":1.88,"P":8.0,"D":3.6},{"t":"2025-06-16","M":1.58,"P":5.4,"D":1.7},{"t":"2025-06-21","M":1.85,"P":7.8,"D":3.5},{"t":"2025-06-26","M":1.56,"P":5.2,"D":1.7},
{"t":"2025-07-01","M":1.85,"P":7.2,"D":3.4},{"t":"2025-07-06","M":1.52,"P":4.8,"D":1.6},{"t":"2025-07-11","M":1.82,"P":7.6,"D":4.8},{"t":"2025-07-16","M":1.55,"P":4.6,"D":1.6},{"t":"2025-07-21","M":1.84,"P":7.0,"D":3.2},{"t":"2025-07-26","M":1.55,"P":4.9,"D":1.7},
{"t":"2025-08-01","M":1.92,"P":7.0,"D":3.3},{"t":"2025-08-06","M":1.62,"P":4.7,"D":1.6},{"t":"2025-08-11","M":1.95,"P":7.3,"D":3.5},{"t":"2025-08-16","M":1.6,"P":4.6,"D":1.7},{"t":"2025-08-21","M":1.9,"P":6.8,"D":3.1},{"t":"2025-08-26","M":1.64,"P":4.8,"D":1.6},
{"t":"2025-09-01","M":1.95,"P":7.4,"D":3.2},{"t":"2025-09-06","M":1.65,"P":4.9,"D":1.6},{"t":"2025-09-11","M":1.98,"P":7.6,"D":3.4},{"t":"2025-09-16","M":1.66,"P":5.0,"D":1.6},{"t":"2025-09-21","M":1.96,"P":7.2,"D":3.3},{"t":"2025-09-26","M":1.68,"P":4.8,"D":1.5},
{"t":"2025-10-01","M":1.9,"P":7.0,"D":3.2},{"t":"2025-10-06","M":1.6,"P":4.8,"D":1.5},{"t":"2025-10-11","M":1.88,"P":7.2,"D":3.0},{"t":"2025-10-16","M":1.58,"P":4.7,"D":1.4},{"t":"2025-10-21","M":1.85,"P":6.6,"D":4.2},{"t":"2025-10-26","M":1.4,"P":4.9,"D":1.3},
{"t":"2025-11-01","M":2.3,"P":6.8,"D":5.5},{"t":"2025-11-06","M":0.9,"P":5.0,"D":1.8},{"t":"2025-11-11","M":2.5,"P":7.8,"D":6.2},{"t":"2025-11-16","M":2.0,"P":5.2,"D":1.9},{"t":"2025-11-21","M":2.4,"P":7.6,"D":4.5},{"t":"2025-11-26","M":2.1,"P":5.4,"D":1.8},
{"t":"2025-12-01","M":2.6,"P":8.8,"D":3.6},{"t":"2025-12-06","M":2.2,"P":5.8,"D":1.9},{"t":"2025-12-11","M":2.65,"P":9.2,"D":3.4},{"t":"2025-12-16","M":2.15,"P":6.0,"D":1.8},{"t":"2025-12-21","M":2.6,"P":8.4,"D":3.8},{"t":"2025-12-26","M":2.2,"P":5.9,"D":1.9},
{"t":"2026-01-01","M":2.6,"P":8.6,"D":3.4},{"t":"2026-01-06","M":2.2,"P":6.0,"D":1.9},{"t":"2026-01-11","M":2.62,"P":8.2,"D":3.7},{"t":"2026-01-16","M":2.22,"P":5.8,"D":1.9},{"t":"2026-01-21","M":2.58,"P":8.8,"D":3.5},{"t":"2026-01-26","M":2.2,"P":6.1,"D":2.0},
{"t":"2026-02-01","M":2.5,"P":8.4,"D":3.6},{"t":"2026-02-06","M":2.1,"P":5.6,"D":1.9},{"t":"2026-02-11","M":2.48,"P":8.8,"D":4.0},{"t":"2026-02-16","M":2.12,"P":5.5,"D":1.8},{"t":"2026-02-21","M":2.46,"P":8.2,"D":3.4},{"t":"2026-02-26","M":2.1,"P":5.8,"D":1.9},
{"t":"2026-03-01","M":2.32,"P":8.6,"D":3.2},{"t":"2026-03-06","M":1.98,"P":5.9,"D":1.8},{"t":"2026-03-11","M":2.3,"P":8.2,"D":3.4},{"t":"2026-03-16","M":2.0,"P":6.0,"D":1.9},{"t":"2026-03-21","M":2.3,"P":8.0,"D":3.6},{"t":"2026-03-26","M":1.95,"P":5.8,"D":1.8}
]
},
"resolve": {"scale": {"color": "independent"}},
"layer": [
  {"data": {"name": "raw"}, "transform": [{"fold": ["M", "P", "D"], "as": ["s", "v"]}],
   "mark": {"type": "line", "strokeWidth": 1, "opacity": 0.32, "clip": true},
   "encoding": {
     "x": {"field": "t", "type": "temporal",
       "scale": {"type": "utc", "domain": [{"year": 2021, "month": 3, "date": 1, "utc": true}, {"year": 2026, "month": 3, "date": 29, "utc": true}]},
       "axis": {
         "values": [{"year":2021,"month":5,"date":1,"utc":true},{"year":2021,"month":9,"date":1,"utc":true},{"year":2022,"month":1,"date":1,"utc":true},{"year":2022,"month":5,"date":1,"utc":true},{"year":2022,"month":9,"date":1,"utc":true},{"year":2023,"month":1,"date":1,"utc":true},{"year":2023,"month":5,"date":1,"utc":true},{"year":2023,"month":9,"date":1,"utc":true},{"year":2024,"month":1,"date":1,"utc":true},{"year":2024,"month":5,"date":1,"utc":true},{"year":2024,"month":9,"date":1,"utc":true},{"year":2025,"month":1,"date":1,"utc":true},{"year":2025,"month":5,"date":1,"utc":true},{"year":2025,"month":9,"date":1,"utc":true},{"year":2026,"month":1,"date":1,"utc":true}],
         "labelExpr": "[utcFormat(datum.value, '%b'), (utcmonth(datum.value) == 0 || datum.index == 0) ? utcFormat(datum.value, '%Y') : '']",
         "grid": true, "gridColor": "#383838", "gridWidth": 1,
         "ticks": false, "domainColor": "#48454a", "domainWidth": 2,
         "labelColor": "#eeeeee", "labelFontSize": 16, "labelLineHeight": 22, "labelPadding": 6, "labelOverlap": false, "labelFlush": false,
         "title": "See README.md for details on data sources and methodology",
         "titleAnchor": "end", "titleAlign": "right", "titleFontSize": 15, "titleFontWeight": "normal", "titleColor": "#eeeeee", "titlePadding": 19}},
     "y": {"field": "v", "type": "quantitative",
       "scale": {"domain": [0, 10.88], "nice": false, "zero": true},
       "axis": {"values": [0, 2, 4, 6, 8, 10], "labelExpr": "datum.value == 0 ? '0' : datum.value + 'T'",
         "grid": true, "gridColor": "#383838", "gridWidth": 1, "domain": false, "ticks": false,
         "labelColor": "#eeeeee", "labelFontSize": 16, "labelPadding": 7,
         "title": "Value in ISK", "titleFontSize": 12, "titleFontWeight": "normal", "titleColor": "#dddddd", "titlePadding": 22}},
     "color": {"field": "s", "type": "nominal", "scale": {"domain": ["M", "P", "D"], "range": ["#66bb6a", "#64b5f6", "#ff8a80"]}, "legend": null}}},
  {"data": {"name": "smooth"},
   "mark": {"type": "line", "strokeWidth": 3, "clip": true},
   "encoding": {
     "x": {"field": "t", "type": "temporal",
       "scale": {"type": "utc", "domain": [{"year": 2021, "month": 3, "date": 1, "utc": true}, {"year": 2026, "month": 3, "date": 29, "utc": true}]},
       "axis": {
         "values": [{"year":2021,"month":5,"date":1,"utc":true},{"year":2021,"month":9,"date":1,"utc":true},{"year":2022,"month":1,"date":1,"utc":true},{"year":2022,"month":5,"date":1,"utc":true},{"year":2022,"month":9,"date":1,"utc":true},{"year":2023,"month":1,"date":1,"utc":true},{"year":2023,"month":5,"date":1,"utc":true},{"year":2023,"month":9,"date":1,"utc":true},{"year":2024,"month":1,"date":1,"utc":true},{"year":2024,"month":5,"date":1,"utc":true},{"year":2024,"month":9,"date":1,"utc":true},{"year":2025,"month":1,"date":1,"utc":true},{"year":2025,"month":5,"date":1,"utc":true},{"year":2025,"month":9,"date":1,"utc":true},{"year":2026,"month":1,"date":1,"utc":true}],
         "labelExpr": "[utcFormat(datum.value, '%b'), (utcmonth(datum.value) == 0 || datum.index == 0) ? utcFormat(datum.value, '%Y') : '']",
         "grid": true, "gridColor": "#383838", "gridWidth": 1,
         "ticks": false, "domainColor": "#48454a", "domainWidth": 2,
         "labelColor": "#eeeeee", "labelFontSize": 16, "labelLineHeight": 22, "labelPadding": 6, "labelOverlap": false, "labelFlush": false,
         "title": "See README.md for details on data sources and methodology",
         "titleAnchor": "end", "titleAlign": "right", "titleFontSize": 15, "titleFontWeight": "normal", "titleColor": "#eeeeee", "titlePadding": 19}},
     "y": {"field": "v", "type": "quantitative",
       "scale": {"domain": [0, 10.88], "nice": false, "zero": true},
       "axis": {"values": [0, 2, 4, 6, 8, 10], "labelExpr": "datum.value == 0 ? '0' : datum.value + 'T'",
         "grid": true, "gridColor": "#383838", "gridWidth": 1, "domain": false, "ticks": false,
         "labelColor": "#eeeeee", "labelFontSize": 16, "labelPadding": 7,
         "title": "Value in ISK", "titleFontSize": 12, "titleFontWeight": "normal", "titleColor": "#dddddd", "titlePadding": 22}},
     "color": {"field": "s", "type": "nominal", "scale": {"domain": ["M", "P", "D"], "range": ["#66bb6a", "#64b5f6", "#ff8a80"]},
       "legend": {"orient": "top", "direction": "horizontal", "title": null, "offset": 37, "padding": 0,
         "labelExpr": "datum.label == 'M' ? 'Mining Value' : datum.label == 'P' ? 'Production Value' : 'Destruction Value'",
         "symbolType": "stroke", "symbolSize": 600, "symbolStrokeWidth": 3, "symbolOpacity": 1,
         "labelFontSize": 17, "labelColor": "#eeeeee", "columnPadding": 10, "labelOffset": 4}}}},
  {"data": {"values": [{"label": "EVE"}]},
   "mark": {"type": "text", "font": "DejaVu Sans", "fontSize": 42, "fontWeight": "bold", "color": "#cfcfcf", "align": "center", "baseline": "middle", "clip": false},
   "encoding": {"text": {"field": "label"}, "x": {"datum": {"year": 2026, "month": 2, "date": 18, "utc": true}, "type": "temporal"}, "y": {"datum": 12.07}}},
  {"data": {"values": [{"label": "O N L I N E"}]},
   "mark": {"type": "text", "font": "DejaVu Sans", "fontSize": 8, "color": "#bbbbbb", "align": "center", "baseline": "middle", "clip": false},
   "encoding": {"text": {"field": "label"}, "x": {"datum": {"year": 2026, "month": 2, "date": 18, "utc": true}, "type": "temporal"}, "y": {"datum": 11.74}}}
]
}
